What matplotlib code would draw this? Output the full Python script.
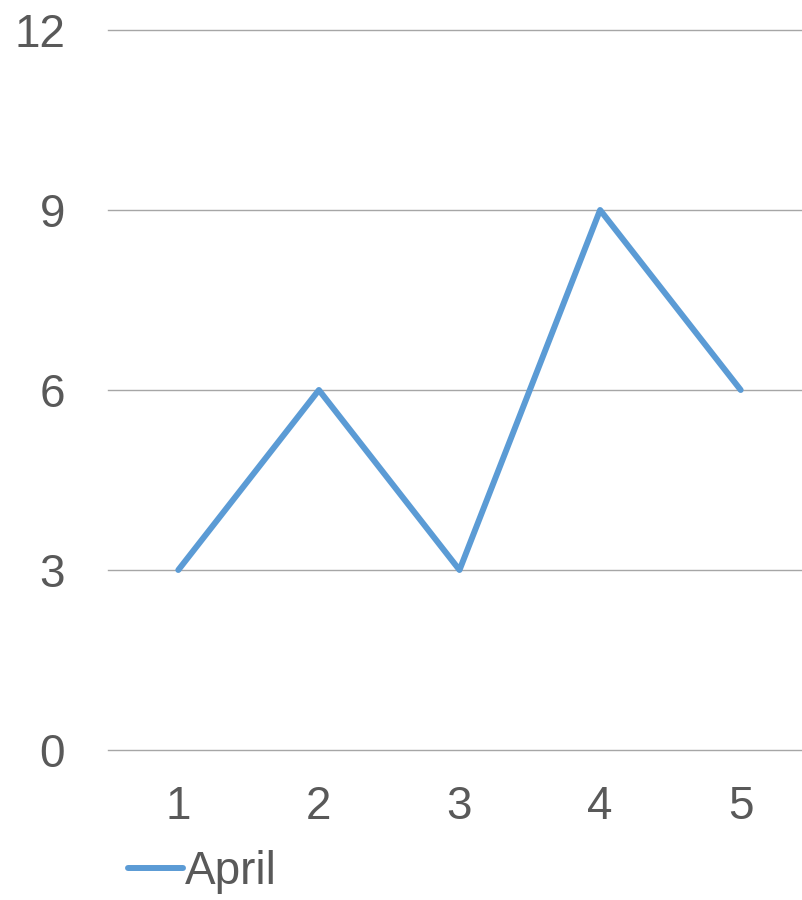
import matplotlib
matplotlib.use("Agg")
import matplotlib.pyplot as plt

plt.rcParams['font.family'] = ['Liberation Sans', 'DejaVu Sans']

# data
categories = ['1', '2', '3', '4', '5']
april = [3, 6, 3, 9, 6]
y_ticks = [0, 3, 6, 9, 12]

text_color = '#595959'
line_color = '#5B9BD5'
grid_color = '#A6A6A6'

fig = plt.figure(figsize=(8.03, 9.0), dpi=100)
ax = fig.add_axes([108 / 803, 150 / 900, 703 / 803, 720 / 900])

x = list(range(1, len(categories) + 1))
ax.plot(x, april, color=line_color, lw=4.3, solid_joinstyle='round',
        solid_capstyle='round', label='April', zorder=3)

ax.set_xlim(0.5, len(categories) + 0.5)
ax.set_ylim(0, 12)
ax.set_yticks(y_ticks)
ax.set_xticks(x)
ax.set_xticklabels(categories)

for y in y_ticks:
    ax.axhline(y, color=grid_color, lw=1.0, zorder=1, clip_on=False)

for s in ax.spines.values():
    s.set_visible(False)
ax.tick_params(axis='both', length=0, labelsize=33, labelcolor=text_color)
ax.tick_params(axis='y', pad=31)
ax.tick_params(axis='x', pad=25)

ax.legend(loc='center left', bbox_to_anchor=(128 / 803, 28 / 900),
          bbox_transform=fig.transFigure, frameon=False, fontsize=33,
          labelcolor=text_color, handlelength=1.2, handletextpad=0.05,
          borderpad=0, borderaxespad=0)

fig.savefig('out.png', dpi=100)
